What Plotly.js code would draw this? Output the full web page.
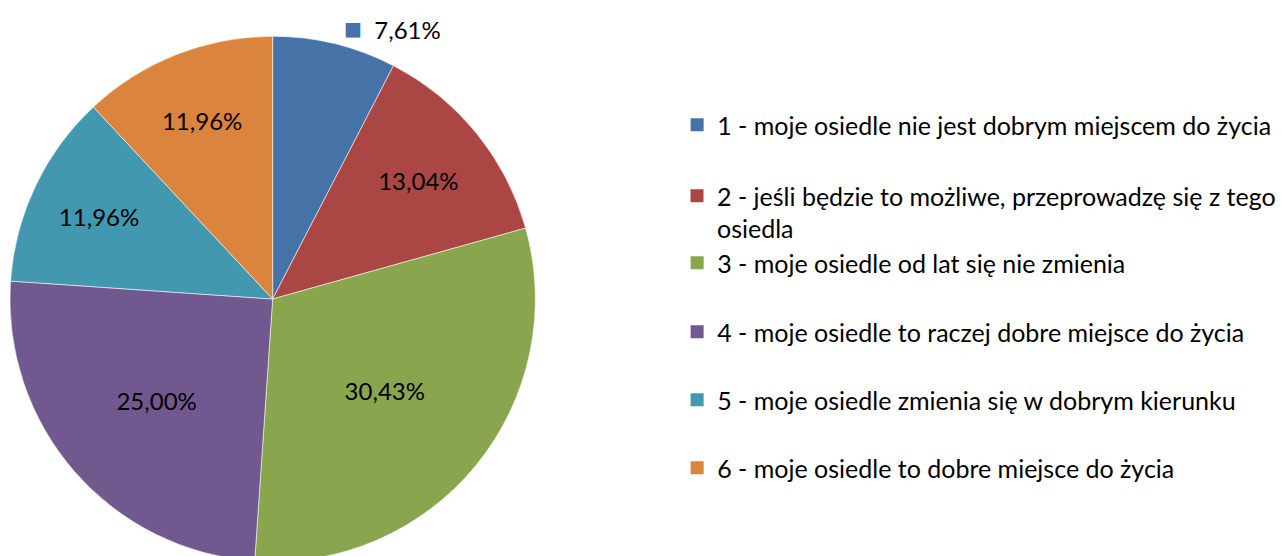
<!DOCTYPE html>
<html>
<head>
<meta charset="utf-8">
<script src="https://cdn.plot.ly/plotly-3.0.1.min.js"></script>
<style>
html, body { margin: 0; padding: 0; overflow: hidden; background: #fff; }
#chart { width: 1281px; height: 598px; }
</style>
</head>
<body>
<div id="chart"></div>
<script>
// Data
var categories = [
  "1 - moje osiedle nie jest dobrym miejscem do życia",
  "2 - jeśli będzie to możliwe, przeprowadzę się z tego<br>osiedla",
  "3 - moje osiedle od lat się nie zmienia",
  "4 - moje osiedle to raczej dobre miejsce do życia",
  "5 - moje osiedle zmienia się w dobrym kierunku",
  "6 - moje osiedle to dobre miejsce do życia"
];
var counts = [7, 12, 28, 23, 11, 11];
var colors = ["#4572A7", "#AA4643", "#89A54E", "#71588F", "#4198AF", "#DB843D"];

var FONT = "Lato, Carlito, Calibri, 'Open Sans', sans-serif";
var FS_LEGEND = 25;
var FS_LABEL = 24;
var H = 598;

var textTemplates = counts.map(function (v, i) {
  return i === 0
    ? '<span style="color:' + colors[0] + ';font-size:30px">■</span>  %{percent:.2%}'
    : '%{percent:.2%}';
});
var textPositions = counts.map(function (v, i) { return i === 0 ? 'outside' : 'inside'; });

var traces = [{
  type: 'pie',
  labels: categories,
  values: counts,
  sort: false,
  direction: 'clockwise',
  rotation: 0,
  marker: { colors: colors, line: { color: 'rgba(255,255,255,0.7)', width: 0.8 } },
  texttemplate: textTemplates,
  textposition: textPositions,
  insidetextorientation: 'horizontal',
  textfont: { family: FONT, size: FS_LABEL, color: '#000' },
  insidetextfont: { family: FONT, size: FS_LABEL, color: '#000' },
  outsidetextfont: { family: FONT, size: FS_LABEL, color: '#000' },
  domain: { x: [10 / 1281, 540 / 1281], y: [0, 1] },
  showlegend: false,
  hoverinfo: 'none'
}];

// Legend entries (one legend per entry to match the spacing of the original)
var legendY = [125, 212, 263, 332, 400, 468];
var layout = {
  width: 1281,
  height: H,
  margin: { l: 0, r: 0, t: 0, b: 0 },
  paper_bgcolor: '#fff',
  plot_bgcolor: 'rgba(0,0,0,0)',
  separators: ', ',
  font: { family: FONT, size: FS_LEGEND, color: '#000' },
  xaxis: { visible: false },
  yaxis: { visible: false }
};

categories.forEach(function (name, i) {
  var key = i === 0 ? 'legend' : 'legend' + (i + 1);
  traces.push({
    type: 'scatter',
    mode: 'markers',
    x: [null], y: [null],
    name: name,
    marker: { symbol: 'square', size: 13, color: colors[i] },
    legend: key,
    showlegend: true,
    hoverinfo: 'none'
  });
  layout[key] = {
    x: (723 - 40) / 1281,
    xanchor: 'left',
    y: 1 - legendY[i] / H,
    yanchor: 'middle',
    valign: 'top',
    bgcolor: 'rgba(0,0,0,0)',
    borderwidth: 0,
    itemsizing: 'trace',
    itemclick: false,
    itemdoubleclick: false,
    font: { family: FONT, size: FS_LEGEND, color: '#000' }
  };
});

Plotly.newPlot('chart', traces, layout, { displayModeBar: false, staticPlot: true });
</script>
</body>
</html>
